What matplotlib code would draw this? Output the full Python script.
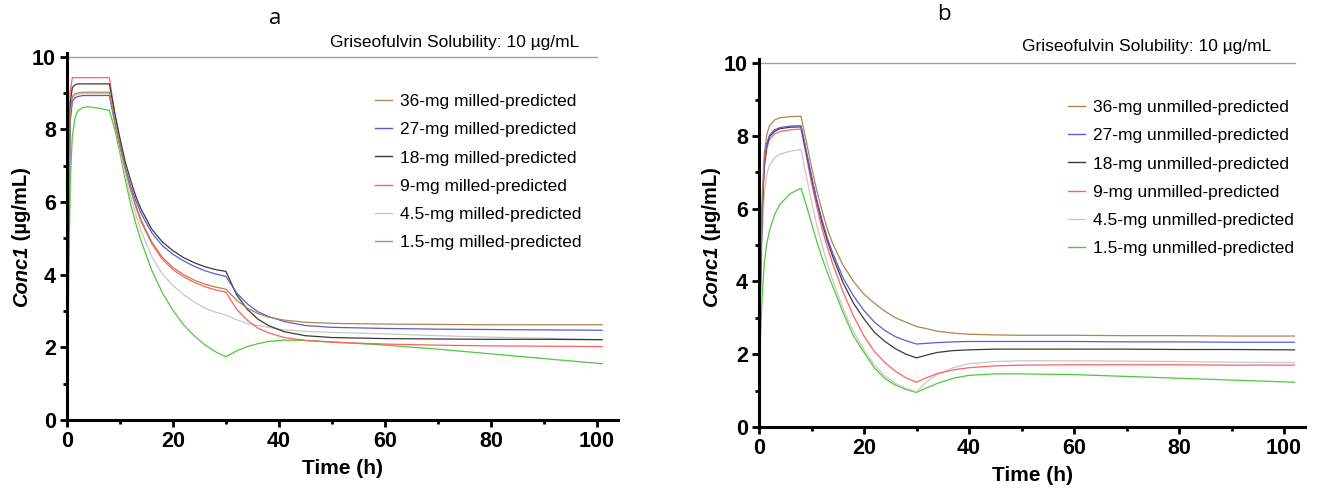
import numpy as np
import matplotlib
matplotlib.use("Agg")
import matplotlib.pyplot as plt
from matplotlib.ticker import MultipleLocator

plt.rcParams['font.family'] = ['Liberation Sans', 'DejaVu Sans']

# ---- data ----
series_colors = ["#b5834f", "#5b5bd8", "#3a3a3a", "#ff6060", "#c8c8c8", "#4fc93c"]
doses = ["36", "27", "18", "9", "4.5", "1.5"]

# panel a: milled
time_a = [0, 0.3, 0.6, 1, 1.5, 2, 3, 4, 6, 8,
          9, 10, 11, 12, 13, 14, 16, 18, 20, 22, 24, 26, 28, 30,
          32, 34, 36, 38, 41, 45, 50, 60, 70, 80, 90, 101]
brown_a = [0, 5.2, 8.4, 8.9, 8.98, 9.0, 9.02, 9.02, 9.02, 9.02,
           8.25, 7.55, 6.9, 6.35, 5.9, 5.5, 4.9, 4.48, 4.2, 4.0, 3.85, 3.74, 3.66, 3.6,
           3.3, 3.08, 2.93, 2.83, 2.75, 2.69, 2.66, 2.64, 2.63, 2.62, 2.62, 2.62]
blue_a = [0, 5.0, 8.2, 8.75, 8.87, 8.9, 8.93, 8.93, 8.93, 8.93,
          8.2, 7.55, 6.95, 6.45, 6.03, 5.68, 5.15, 4.8, 4.56, 4.38, 4.23, 4.11, 4.02, 3.95,
          3.5, 3.2, 2.98, 2.85, 2.71, 2.6, 2.55, 2.52, 2.5, 2.49, 2.48, 2.47]
black_a = [0, 5.5, 8.7, 9.15, 9.22, 9.25, 9.25, 9.25, 9.25, 9.25,
           8.45, 7.75, 7.1, 6.6, 6.15, 5.8, 5.25, 4.9, 4.66, 4.47, 4.33, 4.22, 4.14, 4.09,
           3.45, 3.05, 2.78, 2.6, 2.43, 2.32, 2.27, 2.24, 2.23, 2.22, 2.22, 2.21]
red_a = [0, 6.0, 9.0, 9.42, 9.42, 9.42, 9.42, 9.42, 9.42, 9.42,
         8.45, 7.65, 6.95, 6.35, 5.85, 5.45, 4.85, 4.42, 4.14, 3.94, 3.79, 3.67, 3.58, 3.52,
         3.05, 2.75, 2.53, 2.4, 2.27, 2.19, 2.14, 2.09, 2.06, 2.04, 2.03, 2.02]
gray_a = [0, 5.0, 8.3, 8.85, 8.93, 8.96, 8.98, 8.98, 8.98, 8.98,
          8.2, 7.45, 6.75, 6.15, 5.65, 5.2, 4.5, 4.02, 3.7, 3.45, 3.25, 3.08, 2.97, 2.89,
          2.76, 2.66, 2.6, 2.55, 2.48, 2.44, 2.41, 2.37, 2.32, 2.28, 2.25, 2.21]
green_a = [0, 3.5, 6.5, 7.8, 8.3, 8.5, 8.6, 8.62, 8.58, 8.52,
           8.0, 7.35, 6.6, 5.95, 5.4, 4.92, 4.12, 3.5, 3.02, 2.62, 2.32, 2.07, 1.88, 1.74,
           1.9, 2.02, 2.1, 2.16, 2.2, 2.19, 2.15, 2.06, 1.95, 1.82, 1.69, 1.55]

# panel b: unmilled
time_b = [0, 0.3, 0.6, 1, 1.5, 2, 3, 4, 6, 8,
          9, 10, 11, 12, 13, 14, 16, 18, 20, 22, 24, 26, 28, 30,
          32, 34, 37, 40, 45, 50, 60, 70, 80, 90, 102]
brown_b = [0.7, 4.5, 6.3, 7.5, 8.05, 8.28, 8.44, 8.5, 8.53, 8.54,
           7.85, 7.15, 6.5, 5.95, 5.45, 5.05, 4.45, 4.0, 3.65, 3.4, 3.18, 3.0, 2.88, 2.76,
           2.7, 2.63, 2.58, 2.55, 2.53, 2.52, 2.52, 2.51, 2.51, 2.5, 2.5]
blue_b = [0.7, 4.2, 6.0, 7.25, 7.8, 8.02, 8.17, 8.23, 8.27, 8.28,
          7.6, 6.9, 6.25, 5.7, 5.2, 4.8, 4.1, 3.6, 3.2, 2.88, 2.65, 2.48, 2.37, 2.28,
          2.3, 2.32, 2.34, 2.35, 2.35, 2.35, 2.35, 2.34, 2.34, 2.33, 2.33]
black_b = [0.7, 4.1, 5.9, 7.2, 7.75, 7.98, 8.13, 8.2, 8.24, 8.25,
           7.55, 6.85, 6.2, 5.62, 5.12, 4.7, 3.97, 3.4, 2.97, 2.6, 2.35, 2.15, 2.0, 1.9,
           1.98, 2.05, 2.1, 2.12, 2.14, 2.14, 2.14, 2.14, 2.13, 2.13, 2.12]
red_b = [0.7, 4.0, 5.8, 7.1, 7.65, 7.9, 8.06, 8.12, 8.17, 8.19,
         7.45, 6.7, 6.05, 5.45, 4.95, 4.5, 3.72, 3.05, 2.5, 2.07, 1.77, 1.53, 1.35, 1.23,
         1.36, 1.47, 1.57, 1.63, 1.68, 1.7, 1.71, 1.71, 1.71, 1.7, 1.7]
gray_b = [0.7, 3.5, 5.2, 6.4, 6.95, 7.2, 7.4, 7.5, 7.58, 7.63,
          6.9, 6.2, 5.55, 5.0, 4.5, 4.05, 3.25, 2.62, 2.12, 1.7, 1.4, 1.2, 1.06, 0.97,
          1.25, 1.45, 1.63, 1.74, 1.8, 1.82, 1.82, 1.81, 1.8, 1.78, 1.77]
green_b = [0.7, 2.5, 3.6, 4.5, 5.05, 5.4, 5.85, 6.12, 6.42, 6.56,
           6.1, 5.6, 5.1, 4.65, 4.25, 3.88, 3.15, 2.5, 2.05, 1.62, 1.33, 1.15, 1.03, 0.95,
           1.08, 1.2, 1.34, 1.42, 1.46, 1.46, 1.44, 1.39, 1.34, 1.29, 1.23]

solubility = 10
sol_end_a = 100
sol_end_b = 102

W, H = 1321, 493
fig = plt.figure(figsize=(W / 100, H / 100), dpi=100)


def px(x, y):
    return x / W, 1 - y / H


def draw_panel(ax, t, curves, kind, sol_end, legend_xy):
    # solubility reference line
    ax.plot([0, sol_end], [solubility, solubility], color="#a0a0a0", lw=1.0, zorder=1)
    for vals, col in reversed(list(zip(curves, series_colors))):
        ax.plot(t, vals, color=col, lw=0.9, zorder=2)
    ax.set_xlim(0, 104)
    ax.set_ylim(0, 10.1)
    ax.xaxis.set_major_locator(MultipleLocator(20))
    ax.xaxis.set_minor_locator(MultipleLocator(10))
    ax.yaxis.set_major_locator(MultipleLocator(2))
    ax.yaxis.set_minor_locator(MultipleLocator(1))
    for s in ["top", "right"]:
        ax.spines[s].set_visible(False)
    for s in ["left", "bottom"]:
        ax.spines[s].set_linewidth(2.2)
    ax.tick_params(which="major", direction="out", length=5, width=2, pad=3,
                   labelsize=15.5)
    ax.tick_params(which="minor", direction="out", length=3, width=2)
    for lab in ax.get_xticklabels() + ax.get_yticklabels():
        lab.set_fontweight("bold")
    ax.set_xlabel("Time (h)", fontsize=15, fontweight="bold", labelpad=5)

    handles = [plt.Line2D([], [], color=c, lw=1.0) for c in series_colors]
    labels = [f"{d}-mg {kind}-predicted" for d in doses]
    fig.legend(handles, labels, loc="upper left", bbox_to_anchor=px(*legend_xy),
               frameon=False, fontsize=12.5, handlelength=1.0, handletextpad=0.45,
               labelspacing=0.75, borderpad=0, borderaxespad=0)


def ylabel(x, y_bottom):
    t1 = fig.text(*px(x, y_bottom), "Conc1", rotation=90, rotation_mode="anchor",
                  ha="left", va="bottom", fontsize=14.5, fontweight="bold",
                  style="italic")
    plt.annotate(" (\u00b5g/mL)", xy=(1, 1), xycoords=t1, rotation=90,
                 rotation_mode="anchor", ha="left", va="bottom", fontsize=14.5,
                 fontweight="bold", annotation_clip=False)


ax_a = fig.add_axes([67 / W, 1 - 420 / H, 551 / W, 367 / H])
draw_panel(ax_a, time_a, [brown_a, blue_a, black_a, red_a, gray_a, green_a],
           "milled", sol_end_a, (375, 94))
ax_b = fig.add_axes([759 / W, 1 - 427 / H, 546 / W, 367.5 / H])
draw_panel(ax_b, time_b, [brown_b, blue_b, black_b, red_b, gray_b, green_b],
           "unmilled", sol_end_b, (1068, 100))

ylabel(31, 307)
ylabel(721, 307)

fig.text(*px(275, 18), "a", fontsize=16, family="Open Sans", ha="center", va="center")
fig.text(*px(944, 15), "b", fontsize=16, family="Open Sans", ha="center", va="center")
fig.text(*px(330, 42), "Griseofulvin Solubility: 10 \u00b5g/mL", fontsize=12.5,
         ha="left", va="center")
fig.text(*px(1022, 47), "Griseofulvin Solubility: 10 \u00b5g/mL", fontsize=12.5,
         ha="left", va="center")

fig.savefig("out.png", dpi=100)
